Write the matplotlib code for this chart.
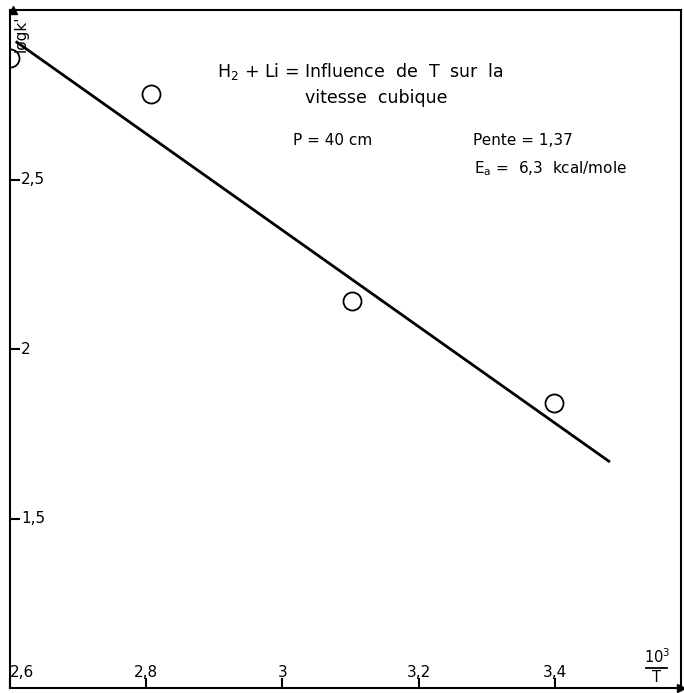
import numpy as np
import matplotlib.pyplot as plt

plt.rcParams['mathtext.default'] = 'regular'

# mesures : log k' en fonction de 10^3/T
inv_T = np.array([2.60, 2.807, 3.102, 3.399])
log_k = np.array([2.858, 2.751, 2.142, 1.840])

# droite tracée (pente 1,37)
line_x = np.array([2.61, 3.479])
line_y = np.array([2.905, 1.669])

x_ticks = [2.6, 2.8, 3.0, 3.2, 3.4]
x_labels = ['2,6', '2,8', '3', '3,2', '3,4']
y_ticks = [1.5, 2.0, 2.5]
y_labels = ['1,5', '2', '2,5']

fig = plt.figure(figsize=(6.84, 6.93), dpi=100)
ax = fig.add_axes([10 / 684, 5 / 693, 671 / 684, 678 / 693])

ax.plot(line_x, line_y, color='black', lw=2)
ax.plot(inv_T, log_k, 'o', mfc='white', mec='black', ms=13, mew=1.3, clip_on=True)

ax.set_xlim(2.605, 3.585)
ax.set_ylim(1.0, 3.0)

for s in ax.spines.values():
    s.set_linewidth(1.5)

# petites flèches au bout des axes
ax.plot([2.605], [3.0], marker='^', color='black', ms=6, clip_on=False)
ax.plot([3.585], [1.0], marker='>', color='black', ms=6, clip_on=False)

ax.set_xticks(x_ticks)
ax.set_xticklabels([])
ax.set_yticks(y_ticks)
ax.set_yticklabels([])
ax.tick_params(direction='in', length=7, width=1.5)
ax.tick_params(top=False, right=False)

fs = 11
for x, lab in zip(x_ticks, x_labels):
    ax.text(x, 1.025, lab, ha='center' if x > 2.65 else 'left', va='bottom', fontsize=fs)
for y, lab in zip(y_ticks, y_labels):
    ax.text(2.616, y, lab, ha='left', va='center', fontsize=fs)

ax.text(2.617, 2.985, "logk'", rotation=90, ha='center', va='top', fontsize=fs)

# étiquette de l'axe x : 10^3 / T
ax.text(3.5495, 1.064, r'10$^3$', ha='center', va='bottom', fontsize=10.5)
ax.text(3.5495, 1.052, 'T', ha='center', va='top', fontsize=10.5)
ax.plot([3.534, 3.565], [1.058, 1.058], color='black', lw=1.3)

ax.text(3.115, 2.818, r'H$_2$ + Li = Influence  de  T  sur  la', ha='center', va='center', fontsize=12.5)
ax.text(3.138, 2.740, 'vitesse  cubique', ha='center', va='center', fontsize=12.5)
ax.text(3.015, 2.615, 'P = 40 cm', ha='left', va='center', fontsize=fs)
ax.text(3.279, 2.615, 'Pente = 1,37', ha='left', va='center', fontsize=fs)
ax.text(3.281, 2.533, r'E$_{a}$ =  6,3  kcal/mole', ha='left', va='center', fontsize=fs)

fig.savefig('out.png', dpi=100)
